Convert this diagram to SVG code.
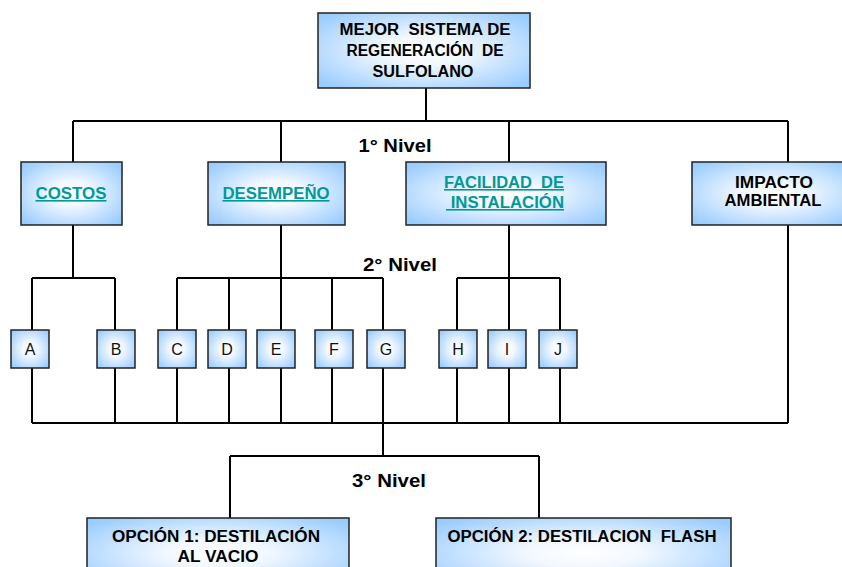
<svg xmlns="http://www.w3.org/2000/svg" width="842" height="567" viewBox="0 0 842 567">
<defs>
<radialGradient id="g" cx="50%" cy="50%" r="65%">
<stop offset="0" stop-color="#ffffff"/>
<stop offset="0.3" stop-color="#f2f8ff"/>
<stop offset="1" stop-color="#99ccff"/>
</radialGradient>
<style>
.box{fill:url(#g);stroke:#222;stroke-width:1.5}
.t{font-family:"Liberation Sans",Arial,sans-serif;font-weight:bold;font-size:16px;fill:#000;text-anchor:middle;white-space:pre}
.lk{fill:#009999;text-decoration:underline}
.l{font-family:"Liberation Sans",Arial,sans-serif;font-size:16px;fill:#111;text-anchor:middle}
.lvl{font-family:"Liberation Sans",Arial,sans-serif;font-weight:bold;font-size:19px;fill:#000;text-anchor:middle}
.c{stroke:#000;stroke-width:2;fill:none}
</style>
</defs>
<rect width="842" height="567" fill="#fff"/>
<g id="connectors" class="c">
<path d="M426 88V121M73 121H788M73 121V162M281 121V162M509 121V162M788 121V163"/>
<path d="M73 225V278M32 278H115M32 278V330M115 278V330"/>
<path d="M281 225V278M177 278H383M177 278V330M229 278V330M281 278V330M332 278V330M383 278V330"/>
<path d="M509 225V278M457 278H560M457 278V330M509 278V330M560 278V330"/>
<path d="M32 368V423M115 368V423M177 368V423M229 368V423M281 368V423M332 368V423M383 368V423M457 368V423M509 368V423M560 368V423M788 225V423M32 423H788"/>
<path d="M383 423V456M230 456H539M230 456V518M539 456V518"/>
</g>
<text class="lvl" x="395" y="152" textLength="73" lengthAdjust="spacingAndGlyphs">1° Nivel</text>
<text class="lvl" x="400" y="271" textLength="74" lengthAdjust="spacingAndGlyphs">2° Nivel</text>
<text class="lvl" x="389" y="487" textLength="74" lengthAdjust="spacingAndGlyphs">3° Nivel</text>
<g id="root"><rect class="box" x="318" y="13" width="212" height="75"/>
<text class="t" x="425" y="35" textLength="171" lengthAdjust="spacingAndGlyphs">MEJOR  SISTEMA DE</text>
<text class="t" x="425" y="56" textLength="157" lengthAdjust="spacingAndGlyphs">REGENERACIÓN  DE</text>
<text class="t" x="423" y="77" textLength="101" lengthAdjust="spacingAndGlyphs">SULFOLANO</text></g>
<g id="costos"><rect class="box" x="21" y="162" width="101" height="63"/>
<text class="t lk" x="71" y="199" textLength="71" lengthAdjust="spacingAndGlyphs">COSTOS</text></g>
<g id="desempeno"><rect class="box" x="208" y="162" width="137" height="63"/>
<text class="t lk" x="276" y="199" textLength="107" lengthAdjust="spacingAndGlyphs">DESEMPEÑO</text></g>
<g id="facilidad"><rect class="box" x="406" y="162" width="200" height="63"/>
<text class="t lk" x="504" y="188" textLength="120" lengthAdjust="spacingAndGlyphs">FACILIDAD  DE</text>
<text class="t lk" x="505" y="208" textLength="118" lengthAdjust="spacingAndGlyphs"> INSTALACIÓN</text></g>
<g id="impacto"><rect class="box" x="692" y="162" width="162" height="63"/>
<text class="t" x="774" y="188" textLength="78" lengthAdjust="spacingAndGlyphs">IMPACTO</text>
<text class="t" x="773" y="206" textLength="97" lengthAdjust="spacingAndGlyphs">AMBIENTAL</text></g>
<g id="A"><rect class="box" x="11" y="330" width="38" height="38"/><text class="l" x="30" y="355">A</text></g>
<g id="B"><rect class="box" x="97" y="330" width="38" height="38"/><text class="l" x="116" y="355">B</text></g>
<g id="C"><rect class="box" x="158" y="330" width="38" height="38"/><text class="l" x="177" y="355">C</text></g>
<g id="D"><rect class="box" x="208" y="330" width="38" height="38"/><text class="l" x="227" y="355">D</text></g>
<g id="E"><rect class="box" x="257" y="330" width="38" height="38"/><text class="l" x="276" y="355">E</text></g>
<g id="F"><rect class="box" x="315" y="330" width="38" height="38"/><text class="l" x="334" y="355">F</text></g>
<g id="G"><rect class="box" x="367" y="330" width="38" height="38"/><text class="l" x="386" y="355">G</text></g>
<g id="H"><rect class="box" x="439" y="330" width="38" height="38"/><text class="l" x="458" y="355">H</text></g>
<g id="I"><rect class="box" x="488" y="330" width="38" height="38"/><text class="l" x="507" y="355">I</text></g>
<g id="J"><rect class="box" x="539" y="330" width="38" height="38"/><text class="l" x="558" y="355">J</text></g>
<g id="opcion1"><rect class="box" x="87" y="518" width="262" height="70"/>
<text class="t" x="216" y="542" textLength="208" lengthAdjust="spacingAndGlyphs">OPCIÓN 1: DESTILACIÓN</text>
<text class="t" x="218" y="562" textLength="81" lengthAdjust="spacingAndGlyphs">AL VACIO</text></g>
<g id="opcion2"><rect class="box" x="436" y="518" width="295" height="70"/>
<text class="t" x="582" y="542" textLength="269" lengthAdjust="spacingAndGlyphs">OPCIÓN 2: DESTILACION  FLASH</text></g>
</svg>
